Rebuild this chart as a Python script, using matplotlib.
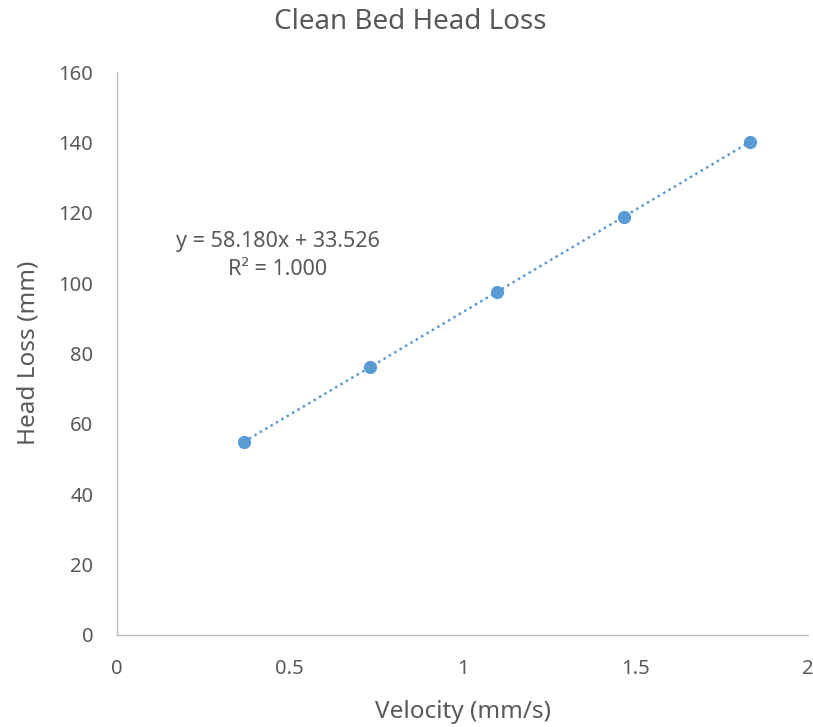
import matplotlib
matplotlib.use("Agg")
import matplotlib.pyplot as plt
import numpy as np

velocity = [0.3667, 0.7333, 1.1000, 1.4667, 1.8333]
head_loss = [54.9, 76.2, 97.5, 118.9, 140.2]
slope = 58.180
intercept = 33.526
r2 = 1.000

title = "Clean Bed Head Loss"
xlabel = "Velocity (mm/s)"
ylabel = "Head Loss (mm)"
xticks = [0, 0.5, 1, 1.5, 2]
xticklabels = ["0", "0.5", "1", "1.5", "2"]
yticks = [0, 20, 40, 60, 80, 100, 120, 140, 160]

plt.rcParams['font.family'] = ['Noto Sans', 'DejaVu Sans']
txt = "#595959"
blue = "#5B9BD5"

fig = plt.figure(figsize=(8.13, 7.27), dpi=100)
ax = fig.add_axes([117/813, 92/727, 691/813, 563/727])

xs = np.array([min(velocity), max(velocity)])
ax.plot(xs, slope*xs + intercept, linestyle=(0, (1, 1.5)), color=blue, lw=1.8, zorder=2)
ax.plot(velocity, head_loss, 'o', color=blue, markersize=8.5, zorder=3)

ax.set_xlim(0, 2)
ax.set_ylim(0, 160)
ax.set_xticks(xticks)
ax.set_xticklabels(xticklabels)
ax.set_yticks(yticks)
ax.tick_params(length=0, labelsize=14.5, colors=txt)
ax.tick_params(axis='y', pad=17)
ax.tick_params(axis='x', pad=17)

for s in ['top', 'right']:
    ax.spines[s].set_visible(False)
for s in ['left', 'bottom']:
    ax.spines[s].set_color("#BFBFBF")
    ax.spines[s].set_linewidth(1.0)

ax.text(0.466, 107.8, f"y = {slope:.3f}x + {intercept:.3f}\nR² = {r2:.3f}",
        ha='center', va='center', fontsize=15.5, color=txt, linespacing=1.4)

fig.text(410/813, 1 - 22/727, title, ha='center', va='center', fontsize=20, color=txt)
fig.text(463/813, 1 - 712/727, xlabel, ha='center', va='center', fontsize=17.5, color=txt)
fig.text(28/813, 1 - 353/727, ylabel, ha='center', va='center', fontsize=17.5, color=txt, rotation=90)

fig.savefig("out.png", dpi=100)
